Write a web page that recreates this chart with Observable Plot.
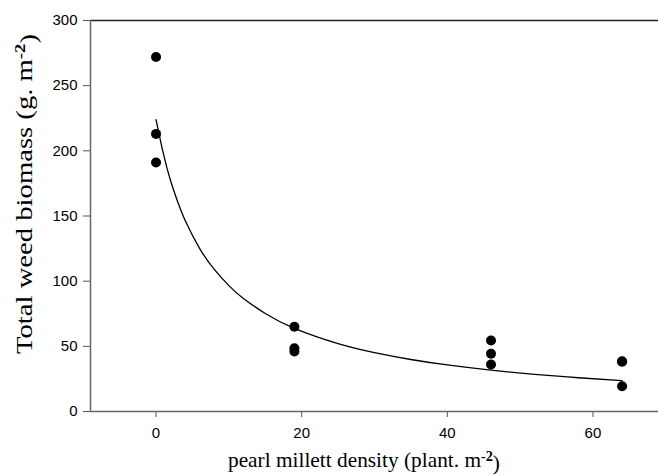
<!DOCTYPE html>
<html>
<head>
<meta charset="utf-8">
<script src="https://cdn.jsdelivr.net/npm/d3@7"></script>
<script src="https://cdn.jsdelivr.net/npm/@observablehq/plot@0.6"></script>
<style>
  html, body { margin: 0; padding: 0; background: #fff; }
</style>
</head>
<body>
<div id="chart"></div>
<script>
// Observed points: pearl millett density vs total weed biomass
const density = [0, 0, 0, 19, 19, 19, 46, 46, 46, 64, 64, 64];
const biomass = [272, 213, 191, 65, 48.5, 46, 54.5, 44.3, 36, 38.6, 38.2, 19.4];

// Fitted curve
const curveX = [0, 1, 2, 3, 4, 6, 8, 10, 12, 15, 19, 25, 30, 35, 40, 46, 52, 58, 64];
const curveY = [224, 198, 177, 160.5, 146.6, 125, 109, 96.6, 86.7, 75.2, 63.8, 52.1, 45.2, 39.9, 35.7, 31.7, 28.5, 25.9, 23.7];

const xTicks = [0, 20, 40, 60];
const yTicks = [0, 50, 100, 150, 200, 250, 300];

const points = density.map((d, i) => ({x: d, y: biomass[i]}));
const curve = curveX.map((d, i) => ({x: d, y: curveY[i]}));

const svg = Plot.plot({
  width: 658,
  height: 475,
  marginLeft: 90,
  marginRight: 0,
  marginTop: 20,
  marginBottom: 64,
  style: {fontFamily: "'Liberation Sans', Arial, sans-serif", fontSize: "15px", color: "#000", background: "#fff"},
  x: {domain: [-9, 69], ticks: xTicks, label: null},
  y: {domain: [0, 300], ticks: yTicks, label: null},
  marks: [
    Plot.axisX({ticks: xTicks, tickSize: 6, tickPadding: 10, label: null, stroke: "#555", fontSize: 15}),
    Plot.axisY({ticks: yTicks, tickSize: 7, tickPadding: 6, label: null, stroke: "#555", fontSize: 15}),
    Plot.ruleY([300], {stroke: "#222", strokeWidth: 1.5}),
    Plot.ruleY([0], {stroke: "#666", strokeWidth: 1.5}),
    Plot.ruleX([-9], {stroke: "#666", strokeWidth: 1.5}),
    Plot.line(curve, {x: "x", y: "y", curve: "natural", stroke: "#000", strokeWidth: 1.3}),
    Plot.dot(points, {x: "x", y: "y", r: 5, fill: "#000", stroke: "none"})
  ]
});

const s = d3.select(svg);
const serif = "'Liberation Serif', 'Times New Roman', serif";

// X axis title
const xt = s.append("text")
  .attr("x", 364).attr("y", 467)
  .attr("text-anchor", "middle")
  .attr("textLength", 272).attr("lengthAdjust", "spacingAndGlyphs")
  .style("font-family", serif).style("font-size", "21px").attr("fill", "#000");
xt.append("tspan").text("pearl millett density (plant. m");
xt.append("tspan").attr("dy", "-0.45em").style("font-size", "14px").style("font-weight", "bold").text("-2");
xt.append("tspan").attr("dy", "0.45em").text(")");

// Y axis title
const yt = s.append("text")
  .attr("transform", "translate(32,194) rotate(-90)")
  .attr("text-anchor", "middle")
  .attr("textLength", 320).attr("lengthAdjust", "spacingAndGlyphs")
  .style("font-family", serif).style("font-size", "23px").attr("fill", "#000");
yt.append("tspan").text("Total weed biomass (g. m");
yt.append("tspan").attr("dy", "-0.45em").style("font-size", "15px").style("font-weight", "bold").text("-2");
yt.append("tspan").attr("dy", "0.45em").text(")");

document.getElementById("chart").appendChild(svg);
</script>
</body>
</html>
